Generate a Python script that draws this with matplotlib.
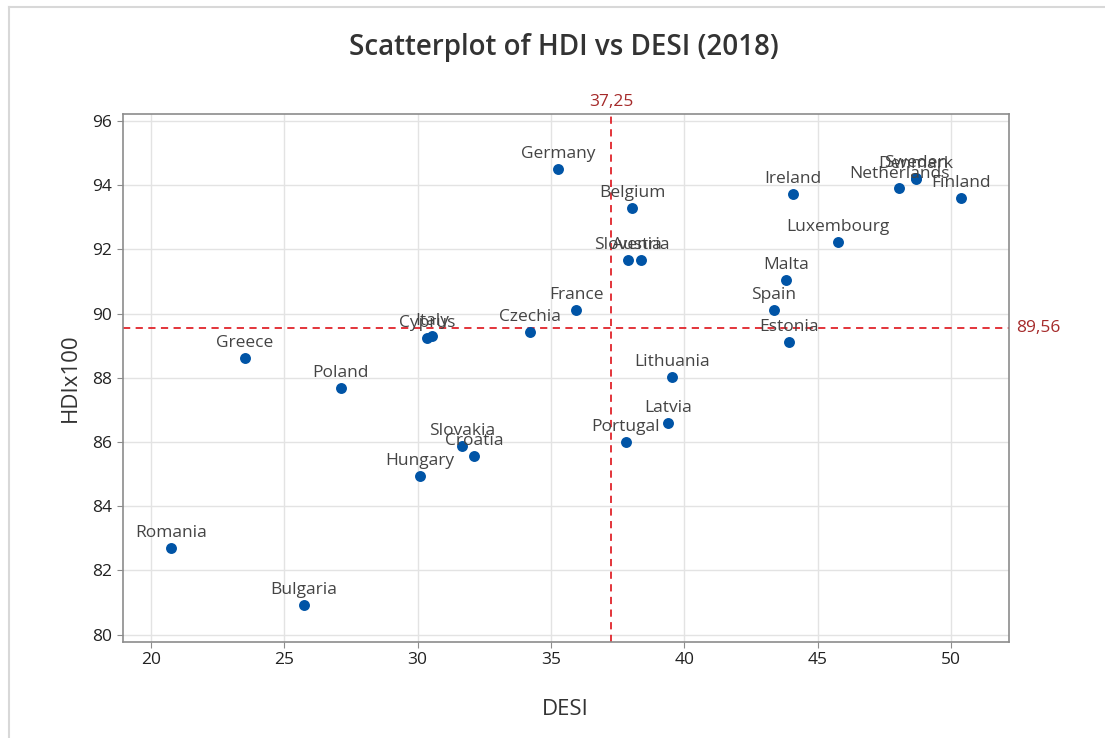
import numpy as np
import matplotlib.pyplot as plt
from matplotlib.lines import Line2D

### Data
countries = ['Germany', 'Belgium', 'Slovenia', 'Austria', 'France', 'Czechia',
             'Cyprus', 'Italy', 'Greece', 'Poland', 'Slovakia', 'Croatia',
             'Hungary', 'Romania', 'Bulgaria', 'Portugal', 'Latvia', 'Lithuania',
             'Estonia', 'Spain', 'Malta', 'Luxembourg', 'Ireland', 'Netherlands',
             'Denmark', 'Sweden', 'Finland']
desi = [35.26, 38.04, 37.89, 38.37, 35.94, 34.21,
        30.35, 30.54, 23.52, 27.12, 31.66, 32.11,
        30.09, 20.75, 25.74, 37.81, 39.39, 39.53,
        43.92, 43.36, 43.81, 45.76, 44.07, 48.06,
        48.68, 48.70, 50.37]
hdi = [94.50, 93.29, 91.67, 91.67, 90.11, 89.43,
       89.24, 89.30, 88.62, 87.68, 85.88, 85.56,
       84.94, 82.70, 80.92, 86.00, 86.59, 88.03,
       89.12, 90.11, 91.05, 92.23, 93.73, 93.90,
       94.20, 94.23, 93.59]
ref_x = 37.25
ref_y = 89.56

plt.rcParams['font.family'] = ['Open Sans', 'DejaVu Sans']

fig = plt.figure(figsize=(11.05, 7.38), dpi=100)
ax = fig.add_axes([0.111, 0.130, 0.802, 0.7155])

ax.scatter(desi, hdi, s=62, color='#0054a6', zorder=3, linewidths=0)
for name, x, y in zip(countries, desi, hdi):
    ax.annotate(name, (x, y), xytext=(0, 5), textcoords='offset points',
                ha='center', va='bottom', fontsize=12.5, color='#444444', zorder=4)

### Reference lines
rc = '#e0242b'
ax.axvline(ref_x, color=rc, ls=(0, (4, 3)), lw=1.3, zorder=2)
ax.axhline(ref_y, color=rc, ls=(0, (4, 3)), lw=1.3, zorder=2)
ax.text(ref_x, 1.008, '37,25', transform=ax.get_xaxis_transform(),
        ha='center', va='bottom', color='#a52a2a', fontsize=12.5)
ax.text(1.008, ref_y, '89,56', transform=ax.get_yaxis_transform(),
        ha='left', va='center', color='#a52a2a', fontsize=12.5)

ax.set_xlim(18.94, 52.17)
ax.set_ylim(79.77, 96.22)
ax.set_xticks([20, 25, 30, 35, 40, 45, 50])
ax.set_yticks([80, 82, 84, 86, 88, 90, 92, 94, 96])
ax.grid(color='#e3e3e3', lw=1)
ax.set_axisbelow(True)
for sp in ax.spines.values():
    sp.set_color('#8c8c8c')
    sp.set_linewidth(1.2)
ax.tick_params(axis='both', direction='out', length=4, color='#8c8c8c',
               labelsize=12.5, labelcolor='#222222')

ax.set_xlabel('DESI', fontsize=16, color='#333333', labelpad=22)
ax.set_ylabel('HDIx100', fontsize=16, color='#333333', labelpad=8)
fig.text(0.51, 0.935, 'Scatterplot of HDI vs DESI (2018)', ha='center', va='center',
         fontsize=20, weight='semibold', color='#333333')

### Window border
fig.add_artist(Line2D([0.008, 0.008], [0, 0.99], transform=fig.transFigure,
                      color='#d8d8d8', lw=1.5))
fig.add_artist(Line2D([0.008, 1], [0.99, 0.99], transform=fig.transFigure,
                      color='#d8d8d8', lw=1.5))

fig.savefig('out.png', dpi=100)
